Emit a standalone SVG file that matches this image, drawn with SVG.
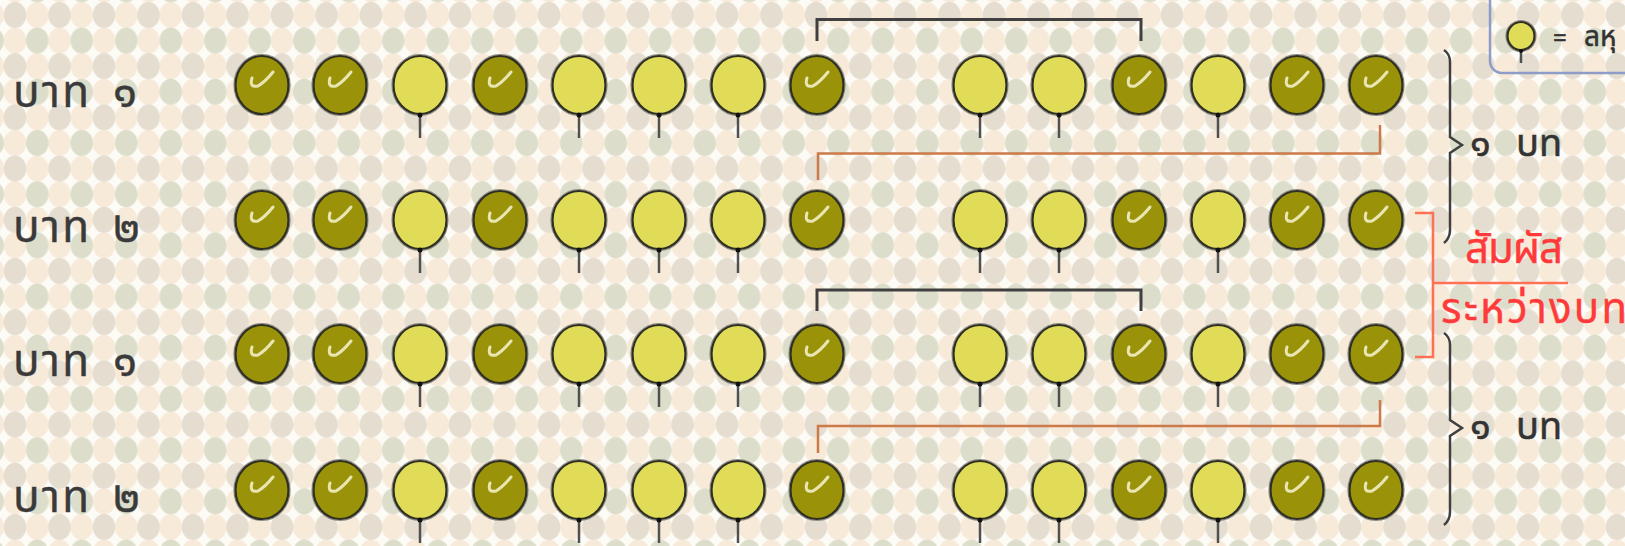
<svg xmlns="http://www.w3.org/2000/svg" width="1625" height="546" viewBox="0 0 1625 546">
<style>
.th{font-family:"Noto Sans Thai","Tahoma","Loma","Garuda","DejaVu Sans",sans-serif;}
.lbl{font-size:44px;fill:#3a3a3a;stroke:#3a3a3a;stroke-width:0.4;}
.bt{font-size:38px;fill:#333;stroke:#333;stroke-width:0.5;}
.red{font-size:42px;fill:#ff3a3a;stroke:#ff3a3a;stroke-width:0.4;}
.rim{fill:none;stroke:#8c8c84;stroke-width:1.2;}
.dk{fill:#9a9208;stroke:#2e2e22;stroke-width:2.2;}
.lt{fill:#e0dc58;stroke:#2e2e22;stroke-width:2.2;}
.chk{fill:none;stroke:#e9e6b4;stroke-width:3;stroke-linecap:round;stroke-linejoin:round;}
.stem{stroke:#505050;stroke-width:2.5;}
.blk{fill:none;stroke:#404040;stroke-width:3;}
.org{fill:none;stroke:#cc7a4a;stroke-width:2.5;}
.brace{fill:none;stroke:#404040;stroke-width:2.5;}
.rl{fill:none;stroke:#ff7055;stroke-width:2.5;}
</style>
<defs>
<pattern id="bg" patternUnits="userSpaceOnUse" x="15" y="15" width="44.5" height="51.2">
<rect x="0" y="0" width="44.5" height="51.2" fill="#fdfbf6"/>
<g fill="#f8ead9">
<ellipse cx="22.25" cy="0" rx="11.3" ry="13"/>
<ellipse cx="0" cy="25.6" rx="11.3" ry="13"/>
<ellipse cx="44.5" cy="25.6" rx="11.3" ry="13"/>
<ellipse cx="22.25" cy="51.2" rx="11.3" ry="13"/>
</g>
<g fill="#e4ddd0">
<ellipse cx="0" cy="0" rx="11.3" ry="13"/>
<ellipse cx="44.5" cy="0" rx="11.3" ry="13"/>
<ellipse cx="0" cy="51.2" rx="11.3" ry="13"/>
<ellipse cx="44.5" cy="51.2" rx="11.3" ry="13"/>
</g>
<ellipse cx="22.25" cy="25.6" rx="11.3" ry="13" fill="#dcdecb"/>
</pattern>
<g id="D">
<ellipse class="rim" cx="0" cy="0" rx="28" ry="30.5"/>
<ellipse class="dk" cx="0" cy="0" rx="26.5" ry="29"/>
<path class="chk" d="M-10,-7 Q-13,3 -4,1 Q3,-3 11,-13"/>
</g>
<g id="L">
<ellipse class="rim" cx="0" cy="0" rx="28" ry="30.5"/>
<ellipse class="lt" cx="0" cy="0" rx="26.5" ry="29"/>
<line class="stem" x1="0" y1="29" x2="0" y2="53"/>
<circle cx="0" cy="30" r="2.5" fill="#111"/>
</g>
<g id="row">
<use href="#D" x="262"/><use href="#D" x="340"/><use href="#L" x="420"/><use href="#D" x="500"/>
<use href="#L" x="579"/><use href="#L" x="659"/><use href="#L" x="738"/><use href="#D" x="817"/>
<use href="#L" x="980"/><use href="#L" x="1059"/><use href="#D" x="1139"/><use href="#L" x="1218"/>
<use href="#D" x="1297"/><use href="#D" x="1376"/>
</g>
</defs>
<rect width="1625" height="546" fill="url(#bg)"/>

<g id="legend">
<rect x="1490" y="-20" width="160" height="93" rx="12" fill="none" stroke="#8e9cc8" stroke-width="2.5"/>
<ellipse class="rim" cx="1521" cy="36" rx="15" ry="15.5"/>
<ellipse class="lt" cx="1521" cy="36" rx="13.5" ry="14"/>
<line class="stem" x1="1521" y1="50" x2="1521" y2="63"/>
<circle cx="1521" cy="51" r="2" fill="#111"/>
<text class="th bt" x="1553" y="46" style="font-size:24px">=</text>
<text class="th bt" x="1584" y="46" style="font-size:28px">ลหุ</text>
</g>

<g id="row1"><use href="#row" y="85"/><text class="th lbl" x="13" y="107"><tspan textLength="76">บาท</tspan> <tspan x="113">๑</tspan></text></g>
<g id="row2"><use href="#row" y="220"/><text class="th lbl" x="13" y="242"><tspan textLength="76">บาท</tspan> <tspan x="113">๒</tspan></text></g>
<g id="row3"><use href="#row" y="354"/><text class="th lbl" x="13" y="376"><tspan textLength="76">บาท</tspan> <tspan x="113">๑</tspan></text></g>
<g id="row4"><use href="#row" y="490"/><text class="th lbl" x="13" y="512"><tspan textLength="76">บาท</tspan> <tspan x="113">๒</tspan></text></g>

<g id="connectors">
<path class="blk" d="M817,41 V19.5 H1141 V41"/>
<path class="blk" d="M817,311 V290 H1141 V311"/>
<path class="org" d="M818,180 V153.5 H1380 V125"/>
<path class="org" d="M818,453 V426 H1380 V400"/>
</g>

<g id="brace1">
<path class="brace" d="M1444,50 Q1450,54 1450,62 V137 L1462,145 L1450,153 V230 Q1450,238 1444,243"/>
<text class="th bt" x="1470" y="156">๑ <tspan x="1516">บท</tspan></text>
</g>
<g id="brace2">
<path class="brace" d="M1444,333 Q1450,337 1450,345 V420 L1462,428 L1450,436 V512 Q1450,520 1444,525"/>
<text class="th bt" x="1470" y="439">๑ <tspan x="1516">บท</tspan></text>
</g>
<g id="rhyme">
<path class="rl" d="M1415,213 H1433 V357 H1415 M1433,283 H1568"/>
<text class="th red" x="1464" y="263" textLength="98">สัมผัส</text>
<text class="th red" x="1441" y="323" textLength="186">ระหว่างบท</text>
</g>
</svg>
